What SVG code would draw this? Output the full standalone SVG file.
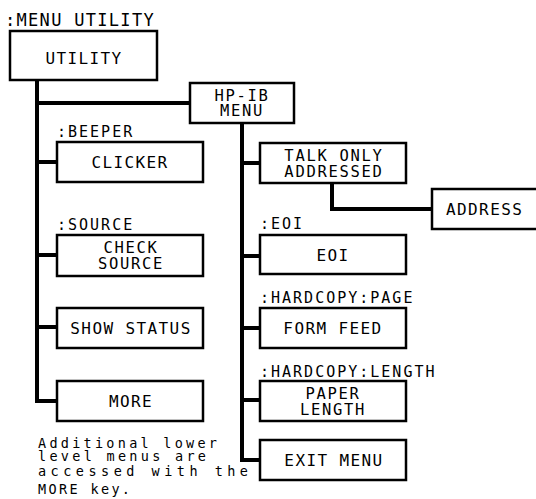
<svg xmlns="http://www.w3.org/2000/svg" width="536" height="499" viewBox="0 0 536 499">
<style>
  .box { fill: #fff; stroke: #000; stroke-width: 2.5; }
  .conn { fill: none; stroke: #000; stroke-width: 4; stroke-linejoin: miter; }
  .t { font-family: "DejaVu Sans Mono", "Liberation Mono", monospace; font-size: 16px; letter-spacing: 1.4px; fill: #000; text-anchor: middle; }
  .t2 { font-family: "DejaVu Sans Mono", "Liberation Mono", monospace; font-size: 15.5px; letter-spacing: 1.7px; fill: #000; text-anchor: middle; }
  .lbl { font-family: "DejaVu Sans Mono", "Liberation Mono", monospace; font-size: 15px; letter-spacing: 2px; fill: #000; }
  .note { font-family: "DejaVu Sans Mono", "Liberation Mono", monospace; font-size: 13.5px; fill: #000; }
</style>
<rect width="536" height="499" fill="#fff"/>

<g id="connectors">
  <path class="conn" d="M37 80 V401 H57"/>
  <path class="conn" d="M37 103 H190"/>
  <path class="conn" d="M37 162 H57"/>
  <path class="conn" d="M37 255 H57"/>
  <path class="conn" d="M37 327 H57"/>
  <path class="conn" d="M242 123 V460 H260"/>
  <path class="conn" d="M242 163 H260"/>
  <path class="conn" d="M242 256 H260"/>
  <path class="conn" d="M242 328 H260"/>
  <path class="conn" d="M242 400 H260"/>
  <path class="conn" d="M332 183 V209 H432"/>
</g>

<g id="title">
  <text class="lbl" x="5" y="26" style="font-size:17px;letter-spacing:1.3px">:MENU UTILITY</text>
</g>

<g id="utility">
  <rect class="box" x="10" y="31" width="147" height="49"/>
  <text class="t" x="84" y="64">UTILITY</text>
</g>

<g id="hpib-menu">
  <rect class="box" x="190" y="83" width="104" height="40"/>
  <text class="t2" x="242" y="101">HP-IB</text>
  <text class="t2" x="242" y="116">MENU</text>
</g>

<g id="clicker">
  <text class="lbl" x="57" y="137">:BEEPER</text>
  <rect class="box" x="57" y="142" width="146" height="40"/>
  <text class="t" x="130" y="168">CLICKER</text>
</g>

<g id="check-source">
  <text class="lbl" x="57" y="230">:SOURCE</text>
  <rect class="box" x="57" y="235" width="146" height="41"/>
  <text class="t2" x="131" y="253">CHECK</text>
  <text class="t2" x="131" y="269">SOURCE</text>
</g>

<g id="show-status">
  <rect class="box" x="57" y="308" width="146" height="40"/>
  <text class="t" x="131" y="334">SHOW STATUS</text>
</g>

<g id="more">
  <rect class="box" x="57" y="381" width="146" height="40"/>
  <text class="t" x="131" y="407">MORE</text>
</g>

<g id="talk-only">
  <rect class="box" x="260" y="143" width="146" height="40"/>
  <text class="t2" x="334" y="161">TALK ONLY</text>
  <text class="t2" x="334" y="177">ADDRESSED</text>
</g>

<g id="address">
  <rect class="box" x="432" y="189" width="130" height="40"/>
  <text class="t" x="446" y="215" style="text-anchor:start">ADDRESS</text>
</g>

<g id="eoi">
  <text class="lbl" x="260" y="229">:EOI</text>
  <rect class="box" x="260" y="235" width="146" height="39"/>
  <text class="t" x="333" y="261">EOI</text>
</g>

<g id="form-feed">
  <text class="lbl" x="260" y="303">:HARDCOPY:PAGE</text>
  <rect class="box" x="260" y="308" width="146" height="40"/>
  <text class="t" x="333" y="334">FORM FEED</text>
</g>

<g id="paper-length">
  <text class="lbl" x="260" y="377">:HARDCOPY:LENGTH</text>
  <rect class="box" x="260" y="381" width="146" height="40"/>
  <text class="t2" x="333" y="399">PAPER</text>
  <text class="t2" x="333" y="415">LENGTH</text>
</g>

<g id="exit-menu">
  <rect class="box" x="260" y="440" width="146" height="40"/>
  <text class="t" x="334" y="466">EXIT MENU</text>
</g>

<g id="note">
  <text class="note" x="38" y="448" textLength="179" lengthAdjust="spacing">Additional lower</text>
  <text class="note" x="38" y="461" textLength="168" lengthAdjust="spacing">level menus are</text>
  <text class="note" x="38" y="476" textLength="210" lengthAdjust="spacing">accessed with the</text>
  <text class="note" x="38" y="494" textLength="92" lengthAdjust="spacing">MORE key.</text>
</g>
</svg>
